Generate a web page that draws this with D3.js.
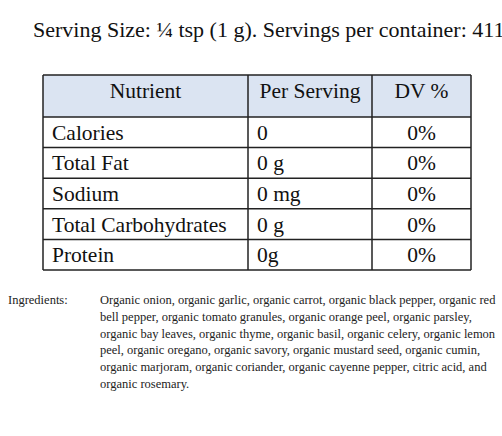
<!DOCTYPE html><html><head><meta charset="utf-8"><script src="https://d3js.org/d3.v7.min.js"></script>
<style>body{margin:0;background:#fff;overflow:hidden}</style></head><body><script>
const title = "Serving Size: ¼ tsp (1 g). Servings per container: 411";
const headers = ["Nutrient","Per Serving","DV %"];
const nutrients = ["Calories","Total Fat","Sodium","Total Carbohydrates","Protein"];
const perServing = ["0","0 g","0 mg","0 g","0g"];
const dv = ["0%","0%","0%","0%","0%"];
const ingredientLines = [
"Organic onion, organic garlic, organic carrot, organic black pepper, organic red",
"bell pepper, organic tomato granules, organic orange peel, organic parsley,",
"organic bay leaves, organic thyme, organic basil, organic celery, organic lemon",
"peel, organic oregano, organic savory, organic mustard seed, organic cumin,",
"organic marjoram, organic coriander, organic cayenne pepper, citric acid, and",
"organic rosemary."];
const font = "'Liberation Serif','Times New Roman',serif";
const svg = d3.select("body").append("svg").attr("width",502).attr("height",436);
svg.append("text").attr("x",33).attr("y",37).attr("font-family",font).attr("font-size",22).attr("fill","#111").text(title);
const colX = [43,248,372,471];
const rowsY = d3.scaleBand().domain(d3.range(nutrients.length)).range([117,270]);
const g = svg.append("g");
g.append("rect").attr("x",colX[0]).attr("y",75).attr("width",colX[3]-colX[0]).attr("height",42).attr("fill","#dbe4f2");
headers.forEach((h,i)=>g.append("text").attr("x",(colX[i]+colX[i+1])/2).attr("y",98).attr("text-anchor","middle").attr("font-family",font).attr("font-size",21.5).attr("fill","#111").text(h));
nutrients.forEach((n,i)=>{
  const y = rowsY(i)+rowsY.bandwidth()/2+7.5;
  g.append("text").attr("x",colX[0]+9).attr("y",y).attr("font-family",font).attr("font-size",21.5).attr("fill","#111").text(n);
  g.append("text").attr("x",colX[1]+9).attr("y",y).attr("font-family",font).attr("font-size",21.5).attr("fill","#111").text(perServing[i]);
  g.append("text").attr("x",(colX[2]+colX[3])/2).attr("y",y).attr("text-anchor","middle").attr("font-family",font).attr("font-size",21.5).attr("fill","#111").text(dv[i]);
});
const ys=[75,117,...nutrients.map((_,i)=>rowsY(i)+rowsY.bandwidth())];
ys.forEach(y=>g.append("line").attr("x1",colX[0]).attr("x2",colX[3]).attr("y1",y).attr("y2",y).attr("stroke","#222").attr("stroke-width",1.5));
colX.forEach(x=>g.append("line").attr("x1",x).attr("x2",x).attr("y1",75).attr("y2",270).attr("stroke","#222").attr("stroke-width",1.5));
svg.append("text").attr("x",8).attr("y",304).attr("font-family",font).attr("font-size",12.5).attr("fill","#222").text("Ingredients:");
ingredientLines.forEach((l,i)=>svg.append("text").attr("x",100).attr("y",304+i*16.8).attr("font-family",font).attr("font-size",12.5).attr("fill","#222").text(l));
</script></body></html>
